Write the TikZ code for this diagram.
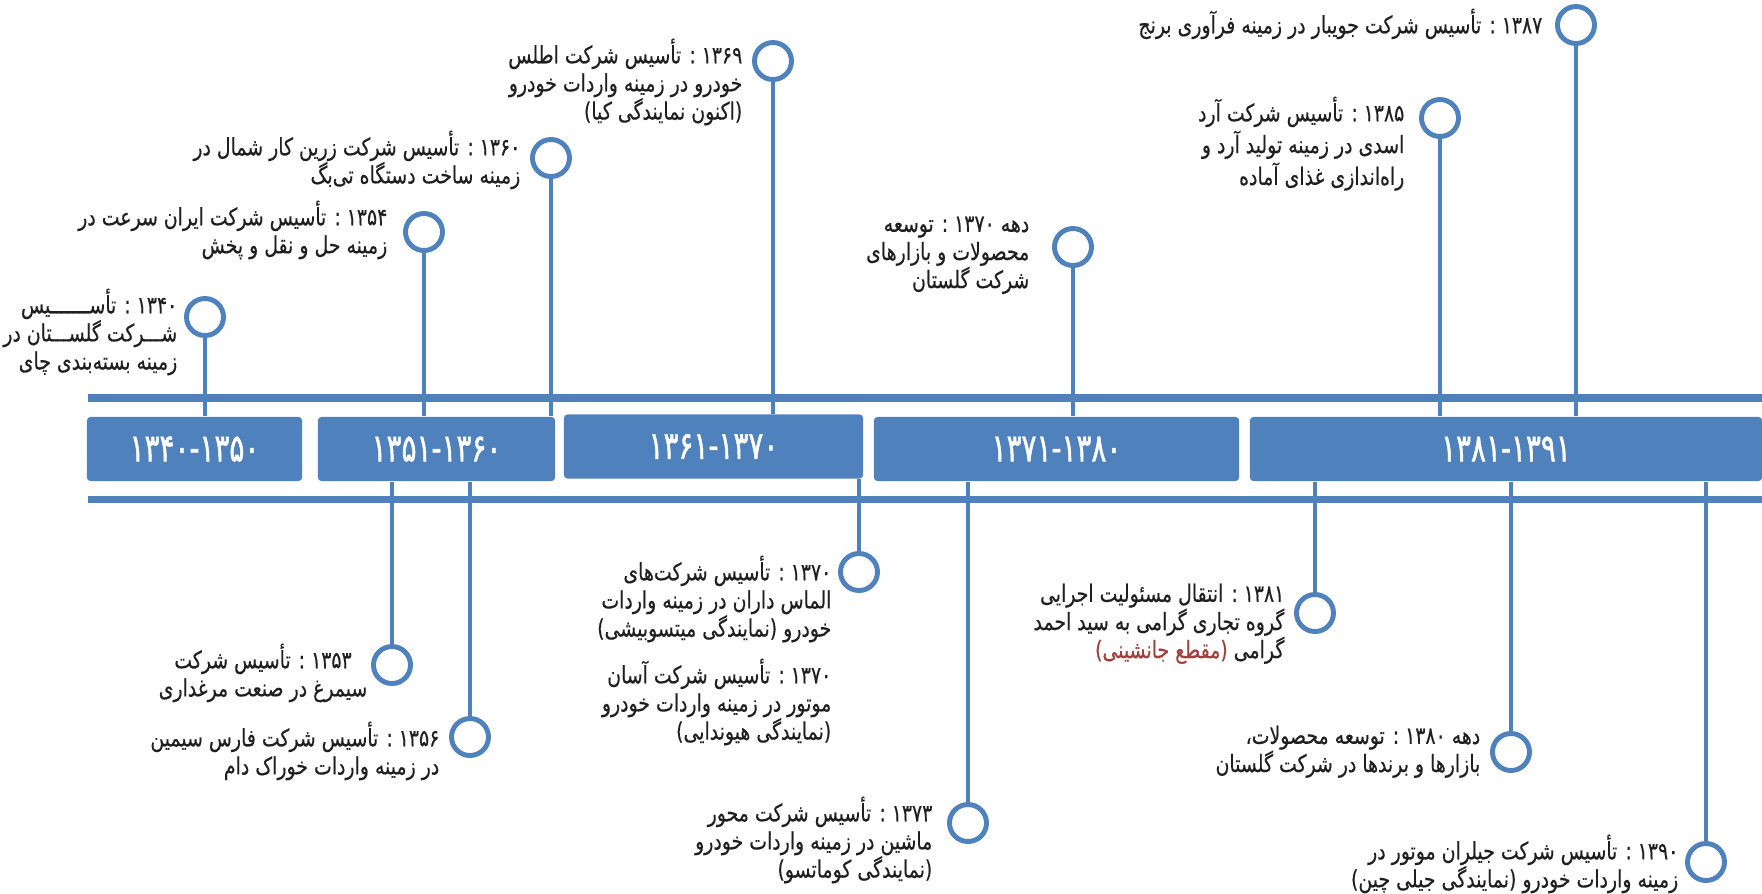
\documentclass[tikz,border=0pt]{standalone}
\usepackage{fontspec}
\TeXXeTstate=1
\newfontfamily\arabicfont[Script=Arabic, FakeStretch=0.79, FakeBold=0.4]{DejaVu Sans}
\newfontfamily\periodfont[Script=Arabic, FakeStretch=0.72, FakeBold=1.2]{DejaVu Sans}
\definecolor{lineblue}{HTML}{4F81BD}
\definecolor{notered}{HTML}{A0403C}
\newcommand{\fa}[1]{{\arabicfont\beginR #1\endR}}
\newcommand{\yr}[1]{\beginL #1\endL{}}

\begin{document}
\begin{tikzpicture} [x=0.01cm, y=-0.01cm,
  period/.style={fill=lineblue, rounded corners=1pt, minimum height=0.64cm, inner sep=0pt,
    text=white, font=\periodfont\fontsize{11}{12}\selectfont},
  ring/.style={circle, draw=lineblue, fill=white, line width=1.4pt, minimum size=0.37cm, inner sep=0pt},
  stem/.style={lineblue, line width=1.15pt},
  bar/.style={lineblue, line width=2pt},
  event/.style={align=right, inner sep=0pt, text=black!88, font=\arabicfont\fontsize{6.8}{8}\selectfont}]
\useasboundingbox (0,0) rectangle (1762,893);
\coordinate (barL) at (88,398);
\coordinate (barR) at (1762,398);
\draw[bar] (barL) -- (barR);
\draw[bar] ([yshift=-1.01cm]barL) -- ([yshift=-1.01cm]barR);
% decades
\foreach \n/\cx/\cy/\w/\lab in {b1/194.5/449/2.15/۱۳۴۰-۱۳۵۰, b2/436.5/449/2.37/۱۳۵۱-۱۳۶۰,
  b3/713.5/446.5/2.99/۱۳۶۱-۱۳۷۰, b4/1056.5/449/3.65/۱۳۷۱-۱۳۸۰, b5/1506/449/5.12/۱۳۸۱-۱۳۹۱}
  \node[period, minimum width=\w cm] (\n) at (\cx,\cy) {\lab};
% events
\foreach \n/\px/\py in {r1/205/317, r2/424/232, r3/551/158, r4/773/61, r5/1073/247,
  r6/1440/118, r7/1576/25, r8/392/665, r9/470/737, r10/859/572, r12/968/823,
  r13/1315/613, r14/1511/752, r15/1706/862}
  \node[ring] (\n) at (\px,\py) {};
\foreach \r/\b in {r1/b1, r2/b2, r3/b2, r4/b3, r5/b4, r6/b5, r7/b5}
  \draw[stem] (\r) -- (\r |- \b.north);
\foreach \r/\b in {r8/b2, r9/b2, r10/b3, r12/b4, r13/b5, r14/b5, r15/b5}
  \draw[stem] (\r) -- (\r |- \b.south);

\node[event, anchor=north east] (e1) at (178,288) {\fa{\yr{۱۳۴۰} : تأســـــــیس}\\ \fa{شـــرکت گلســـتان در}\\ \fa{زمینه بسته‌بندی چای}};
\node[event, anchor=north east] (e2) at (388,200) {\fa{\yr{۱۳۵۴} : تأسیس شرکت ایران سرعت در}\\ \fa{زمینه حل و نقل و پخش}};
\node[event, anchor=north east] (e3) at (521,130) {\fa{\yr{۱۳۶۰} : تأسیس شرکت زرین کار شمال در}\\ \fa{زمینه ساخت دستگاه تی‌بگ}};
\node[event, anchor=north east] (e4) at (743,38) {\fa{\yr{۱۳۶۹} : تأسیس شرکت اطلس}\\ \fa{خودرو در زمینه واردات خودرو}\\ \fa{(اکنون نمایندگی کیا)}};
\node[event, anchor=north east] (e5) at (1030,216) {\fa{دهه \yr{۱۳۷۰} : توسعه}\\ \fa{محصولات و بازارهای}\\ \fa{شرکت گلستان}};
\node[event, anchor=north east] (e6) at (1405,96) {\fa{\yr{۱۳۸۵} : تأسیس شرکت آرد}\\ \fa{اسدی در زمینه تولید آرد و}\\ \fa{راه‌اندازی غذای آماده}};
\node[event, anchor=north east] (e7) at (1543,8) {\fa{\yr{۱۳۸۷} : تأسیس شرکت جویبار در زمینه فرآوری برنج}};
\node[event, align=center, anchor=north east] (e8) at (368,643) {\fa{\yr{۱۳۵۳} : تأسیس شرکت}\\ \fa{سیمرغ در صنعت مرغداری}};
\node[event, anchor=north east] (e9) at (440,721) {\fa{\yr{۱۳۵۶} : تأسیس شرکت فارس سیمین}\\ \fa{در زمینه واردات خوراک دام}};
\node[event, anchor=north east] (e10) at (832,555) {\fa{\yr{۱۳۷۰} : تأسیس شرکت‌های}\\ \fa{الماس داران در زمینه واردات}\\ \fa{خودرو (نمایندگی میتسوبیشی)}};
\node[event, anchor=north east] (e11) at (832,658) {\fa{\yr{۱۳۷۰} : تأسیس شرکت آسان}\\ \fa{موتور در زمینه واردات خودرو}\\ \fa{(نمایندگی هیوندایی)}};
\node[event, anchor=north east] (e12) at (933,796) {\fa{\yr{۱۳۷۳} : تأسیس شرکت محور}\\ \fa{ماشین در زمینه واردات خودرو}\\ \fa{(نمایندگی کوماتسو)}};
\node[event, anchor=north east] (e13) at (1285,583) {\fa{\yr{۱۳۸۱} : انتقال مسئولیت اجرایی}\\ \fa{گروه تجاری گرامی به سید احمد}\\
  {\arabicfont{\color{notered}\beginR(مقطع جانشینی)\endR} \beginR گرامی\endR}};
\node[event, anchor=north east] (e14) at (1481,725) {\fa{دهه \yr{۱۳۸۰} : توسعه محصولات،}\\ \fa{بازارها و برندها در شرکت گلستان}};
\node[event, anchor=north east] (e15) at (1679,834) {\fa{\yr{۱۳۹۰} : تأسیس شرکت جیلران موتور در}\\ \fa{زمینه واردات خودرو (نمایندگی جیلی چین)}};
\end{tikzpicture}
\end{document}
